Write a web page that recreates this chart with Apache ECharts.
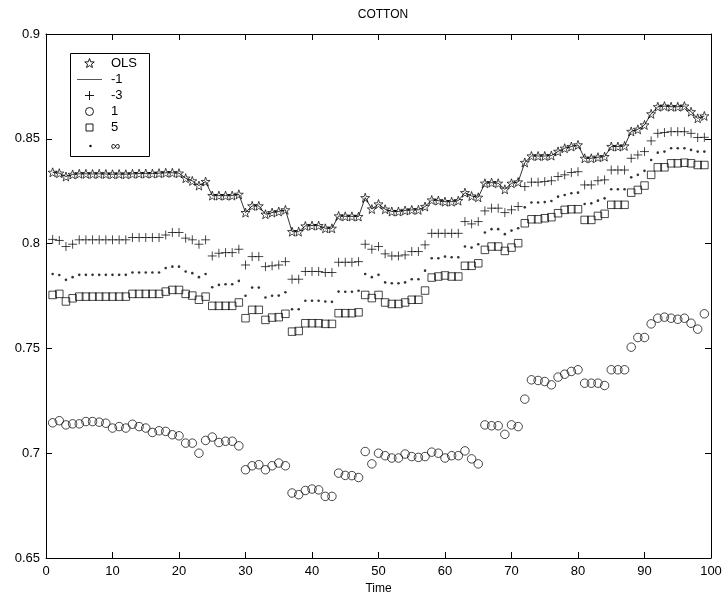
<!DOCTYPE html>
<html>
<head>
<meta charset="utf-8">
<script src="https://cdn.jsdelivr.net/npm/echarts@6/dist/echarts.min.js"></script>
<style>
html,body{margin:0;padding:0;background:#fff;}
#chart{width:725px;height:611px;}
</style>
</head>
<body>
<div id="chart"></div>
<script>
// Time index 1..99
const timeIdx = [];
for (let t = 1; t <= 99; t++) timeIdx.push(t);

const olsValues = [
0.8340,0.8336,0.8320,0.8330,0.8333,0.8333,0.8332,0.8333,0.8332,0.8331,
0.8332,0.8331,0.8333,0.8334,0.8334,0.8334,0.8336,0.8338,0.8338,0.8336,
0.8312,0.8299,0.8277,0.8296,0.8229,0.8229,0.8229,0.8229,0.8235,0.8148,
0.8180,0.8180,0.8140,0.8148,0.8153,0.8161,0.8057,0.8057,0.8084,0.8086,
0.8086,0.8073,0.8073,0.8132,0.8130,0.8130,0.8129,0.8219,0.8165,0.8189,
0.8164,0.8153,0.8153,0.8158,0.8161,0.8161,0.8177,0.8208,0.8205,0.8200,
0.8200,0.8205,0.8243,0.8227,0.8221,0.8288,0.8291,0.8288,0.8259,0.8288,
0.8294,0.8387,0.8418,0.8418,0.8418,0.8420,0.8440,0.8455,0.8463,0.8471,
0.8407,0.8407,0.8412,0.8415,0.8463,0.8463,0.8466,0.8535,0.8545,0.8566,
0.8619,0.8653,0.8656,0.8653,0.8653,0.8656,0.8629,0.8598,0.8609];

const minus1Values = [
0.8340,0.8336,0.8320,0.8330,0.8333,0.8333,0.8332,0.8333,0.8332,0.8331,
0.8332,0.8331,0.8333,0.8334,0.8334,0.8334,0.8336,0.8338,0.8338,0.8336,
0.8312,0.8299,0.8277,0.8296,0.8229,0.8229,0.8229,0.8229,0.8235,0.8148,
0.8180,0.8180,0.8140,0.8148,0.8153,0.8161,0.8057,0.8057,0.8084,0.8086,
0.8086,0.8073,0.8073,0.8132,0.8130,0.8130,0.8129,0.8219,0.8165,0.8189,
0.8164,0.8153,0.8153,0.8158,0.8161,0.8161,0.8177,0.8208,0.8205,0.8200,
0.8200,0.8205,0.8243,0.8227,0.8221,0.8288,0.8291,0.8288,0.8259,0.8288,
0.8294,0.8387,0.8418,0.8418,0.8418,0.8420,0.8440,0.8455,0.8463,0.8471,
0.8407,0.8407,0.8412,0.8415,0.8463,0.8463,0.8466,0.8535,0.8545,0.8566,
0.8619,0.8653,0.8656,0.8653,0.8653,0.8656,0.8629,0.8598,0.8609];

const minus3Values = [
0.8020,0.8015,0.7986,0.7997,0.8018,0.8018,0.8018,0.8018,0.8018,0.8018,
0.8018,0.8018,0.8029,0.8029,0.8029,0.8029,0.8029,0.8041,0.8053,0.8053,
0.8026,0.8018,0.7997,0.8018,0.7941,0.7954,0.7957,0.7957,0.7973,0.7898,
0.7938,0.7938,0.7890,0.7894,0.7898,0.7914,0.7830,0.7830,0.7867,0.7867,
0.7867,0.7862,0.7862,0.7911,0.7911,0.7911,0.7914,0.7997,0.7973,0.7986,
0.7951,0.7941,0.7941,0.7946,0.7962,0.7962,0.7994,0.8049,0.8049,0.8049,
0.8049,0.8049,0.8105,0.8094,0.8105,0.8156,0.8169,0.8169,0.8148,0.8161,
0.8177,0.8272,0.8293,0.8293,0.8296,0.8300,0.8320,0.8328,0.8339,0.8343,
0.8280,0.8280,0.8300,0.8304,0.8351,0.8351,0.8351,0.8407,0.8423,0.8439,
0.8490,0.8526,0.8530,0.8534,0.8534,0.8534,0.8526,0.8506,0.8507];

const plus1Values = [
0.7145,0.7155,0.7135,0.7140,0.7140,0.7151,0.7151,0.7148,0.7143,0.7120,
0.7127,0.7120,0.7138,0.7127,0.7120,0.7099,0.7107,0.7104,0.7088,0.7083,
0.7048,0.7048,0.7000,0.7061,0.7077,0.7051,0.7057,0.7057,0.7035,0.6921,
0.6940,0.6945,0.6921,0.6940,0.6953,0.6940,0.6810,0.6802,0.6822,0.6829,
0.6825,0.6794,0.6794,0.6905,0.6894,0.6893,0.6884,0.7008,0.6949,0.7000,
0.6988,0.6977,0.6977,0.6996,0.6984,0.6980,0.6984,0.7005,0.7000,0.6977,
0.6988,0.6988,0.7011,0.6973,0.6949,0.7135,0.7131,0.7131,0.7090,0.7135,
0.7127,0.7258,0.7350,0.7347,0.7342,0.7326,0.7363,0.7377,0.7390,0.7398,
0.7334,0.7334,0.7334,0.7323,0.7398,0.7398,0.7398,0.7506,0.7552,0.7552,
0.7617,0.7644,0.7649,0.7644,0.7639,0.7644,0.7620,0.7592,0.7665];

const plus5Values = [
0.7755,0.7760,0.7724,0.7739,0.7747,0.7747,0.7747,0.7747,0.7747,0.7747,
0.7747,0.7747,0.7760,0.7760,0.7760,0.7760,0.7760,0.7771,0.7779,0.7779,
0.7760,0.7752,0.7732,0.7747,0.7703,0.7703,0.7703,0.7703,0.7719,0.7644,
0.7684,0.7684,0.7636,0.7647,0.7649,0.7665,0.7580,0.7583,0.7620,0.7620,
0.7620,0.7617,0.7617,0.7668,0.7668,0.7668,0.7672,0.7755,0.7740,0.7755,
0.7719,0.7712,0.7712,0.7719,0.7732,0.7732,0.7776,0.7838,0.7843,0.7848,
0.7843,0.7843,0.7894,0.7894,0.7906,0.7970,0.7986,0.7986,0.7965,0.7981,
0.8002,0.8097,0.8116,0.8116,0.8121,0.8126,0.8145,0.8161,0.8164,0.8164,
0.8113,0.8113,0.8132,0.8142,0.8185,0.8185,0.8185,0.8243,0.8256,0.8277,
0.8328,0.8364,0.8364,0.8383,0.8383,0.8386,0.8383,0.8375,0.8375];

const infValues = [
0.7855,0.7850,0.7827,0.7840,0.7851,0.7851,0.7851,0.7851,0.7851,0.7851,
0.7851,0.7851,0.7862,0.7862,0.7862,0.7862,0.7862,0.7883,0.7890,0.7890,
0.7867,0.7859,0.7840,0.7855,0.7792,0.7803,0.7806,0.7806,0.7822,0.7751,
0.7790,0.7790,0.7743,0.7751,0.7752,0.7768,0.7687,0.7687,0.7727,0.7727,
0.7727,0.7724,0.7722,0.7771,0.7770,0.7770,0.7775,0.7855,0.7840,0.7851,
0.7815,0.7811,0.7811,0.7815,0.7830,0.7830,0.7871,0.7930,0.7930,0.7938,
0.7935,0.7935,0.7986,0.7981,0.7997,0.8053,0.8069,0.8069,0.8045,0.8062,
0.8073,0.8173,0.8196,0.8196,0.8198,0.8203,0.8224,0.8232,0.8240,0.8243,
0.8189,0.8192,0.8205,0.8216,0.8259,0.8259,0.8259,0.8316,0.8328,0.8347,
0.8399,0.8434,0.8439,0.8455,0.8455,0.8455,0.8447,0.8439,0.8439];

const legendNames = ['OLS', '-1', '-3', '1', '5', '\u221E'];
const yTicks = [0.65, 0.7, 0.75, 0.8, 0.85, 0.9];
const xTicks = [0, 10, 20, 30, 40, 50, 60, 70, 80, 90, 100];

function pairs(vals) { return vals.map((v, i) => [timeIdx[i], v]); }

const STAR = 'path://M0,-10L2.35,-3.24L9.51,-3.09L3.80,1.24L5.88,8.09L0,4.2L-5.88,8.09L-3.80,1.24L-9.51,-3.09L-2.35,-3.24Z';
const PLUS = 'path://M-5,0L5,0M0,-5L0,5';
const FONT = '"Liberation Sans", Arial, Helvetica, sans-serif';
const hollow = { color: 'rgba(0,0,0,0)', borderColor: '#000', borderWidth: 0.9 };

const chart = echarts.init(document.getElementById('chart'), null, { renderer: 'canvas' });

// legend (drawn with graphic elements)
const lgX = 70, lgY = 53, rowY = [63, 79.5, 95.5, 111.5, 127.5, 145];
const iconX = 89.5, textX = 111;
function starPoints(cx, cy, R) {
  const pts = [];
  for (let k = 0; k < 10; k++) {
    const r = k % 2 === 0 ? R : R * 0.42;
    const a = -Math.PI / 2 + k * Math.PI / 5;
    pts.push([cx + r * Math.cos(a), cy + r * Math.sin(a)]);
  }
  return pts;
}
const legendGraphics = [
  { type: 'rect', shape: { x: lgX + 0.5, y: lgY + 0.5, width: 79, height: 103 },
    style: { fill: '#fff', stroke: '#000', lineWidth: 1 }, z: 100 },
  { type: 'polygon', shape: { points: starPoints(iconX, rowY[0] + 0.5, 5) },
    style: { fill: 'none', stroke: '#000', lineWidth: 0.9 }, z: 101 },
  { type: 'line', shape: { x1: 77, y1: rowY[1], x2: 102, y2: rowY[1] },
    style: { stroke: '#555', lineWidth: 1 }, z: 101 },
  { type: 'line', shape: { x1: iconX - 4.5, y1: rowY[2], x2: iconX + 4.5, y2: rowY[2] },
    style: { stroke: '#000', lineWidth: 0.9 }, z: 101 },
  { type: 'line', shape: { x1: iconX, y1: rowY[2] - 4.5, x2: iconX, y2: rowY[2] + 4.5 },
    style: { stroke: '#000', lineWidth: 0.9 }, z: 101 },
  { type: 'circle', shape: { cx: iconX, cy: rowY[3], r: 4 },
    style: { fill: 'none', stroke: '#000', lineWidth: 0.9 }, z: 101 },
  { type: 'rect', shape: { x: iconX - 3.5, y: rowY[4] - 3.5, width: 7, height: 7 },
    style: { fill: 'none', stroke: '#000', lineWidth: 0.9 }, z: 101 },
  { type: 'circle', shape: { cx: iconX + 1, cy: rowY[5] + 1, r: 1.2 },
    style: { fill: '#000' }, z: 101 }
];
legendNames.forEach((n, i) => {
  legendGraphics.push({
    type: 'text', z: 101,
    style: { text: n, x: textX, y: rowY[i] + (i === 5 ? 1.5 : 0), font: '13px ' + FONT, fill: '#000', verticalAlign: 'middle', align: 'left' }
  });
});

const axisCommon = {
  axisLine: { show: true, onZero: false, lineStyle: { color: '#000', width: 1 } },
  axisTick: { show: true, inside: true, length: 6, lineStyle: { color: '#000', width: 1 } },
  splitLine: { show: false }
};

const option = {
  animation: false,
  backgroundColor: '#fff',
  title: {
    text: 'COTTON', left: 378, top: 4, textAlign: 'center',
    textStyle: { fontFamily: FONT, fontSize: 12, fontWeight: 'normal', color: '#000' }
  },
  grid: { left: 46, right: 14, top: 34, bottom: 53 },
  xAxis: [
    Object.assign({
      type: 'value', min: xTicks[0], max: xTicks[xTicks.length - 1], interval: 10, position: 'bottom',
      name: 'Time', nameLocation: 'middle', nameGap: 18,
      nameTextStyle: { fontFamily: FONT, fontSize: 12, color: '#000', verticalAlign: 'top' },
      axisLabel: { fontFamily: FONT, fontSize: 13, color: '#000', margin: 7 }
    }, axisCommon),
    Object.assign({
      type: 'value', min: xTicks[0], max: xTicks[xTicks.length - 1], interval: 10, position: 'top',
      axisLabel: { show: false }
    }, axisCommon)
  ],
  yAxis: [
    Object.assign({
      type: 'value', min: yTicks[0], max: yTicks[yTicks.length - 1], interval: 0.05, position: 'left',
      axisLabel: { fontFamily: FONT, fontSize: 13, color: '#000', margin: 6,
        formatter: v => String(+v.toFixed(2)) }
    }, axisCommon),
    Object.assign({
      type: 'value', min: yTicks[0], max: yTicks[yTicks.length - 1], interval: 0.05, position: 'right',
      axisLabel: { show: false }
    }, axisCommon)
  ],
  series: [
    { name: '-1', type: 'line', data: pairs(minus1Values), showSymbol: false, symbol: 'none',
      lineStyle: { color: '#000', width: 0.8 }, z: 2 },
    { name: 'OLS', type: 'scatter', data: pairs(olsValues), symbol: STAR, symbolSize: 9,
      itemStyle: hollow, z: 3 },
    { name: '-3', type: 'scatter', data: pairs(minus3Values), symbol: PLUS, symbolSize: 9,
      itemStyle: hollow, z: 3 },
    { name: '1', type: 'scatter', data: pairs(plus1Values), symbol: 'circle', symbolSize: 8.5,
      itemStyle: hollow, z: 3 },
    { name: '5', type: 'scatter', data: pairs(plus5Values), symbol: 'rect', symbolSize: 7.5,
      itemStyle: hollow, z: 3 },
    { name: '\u221E', type: 'scatter', data: pairs(infValues), symbol: 'circle', symbolSize: 2.6,
      itemStyle: { color: '#000' }, z: 3 }
  ],
  graphic: legendGraphics
};

chart.setOption(option);
</script>
</body>
</html>
